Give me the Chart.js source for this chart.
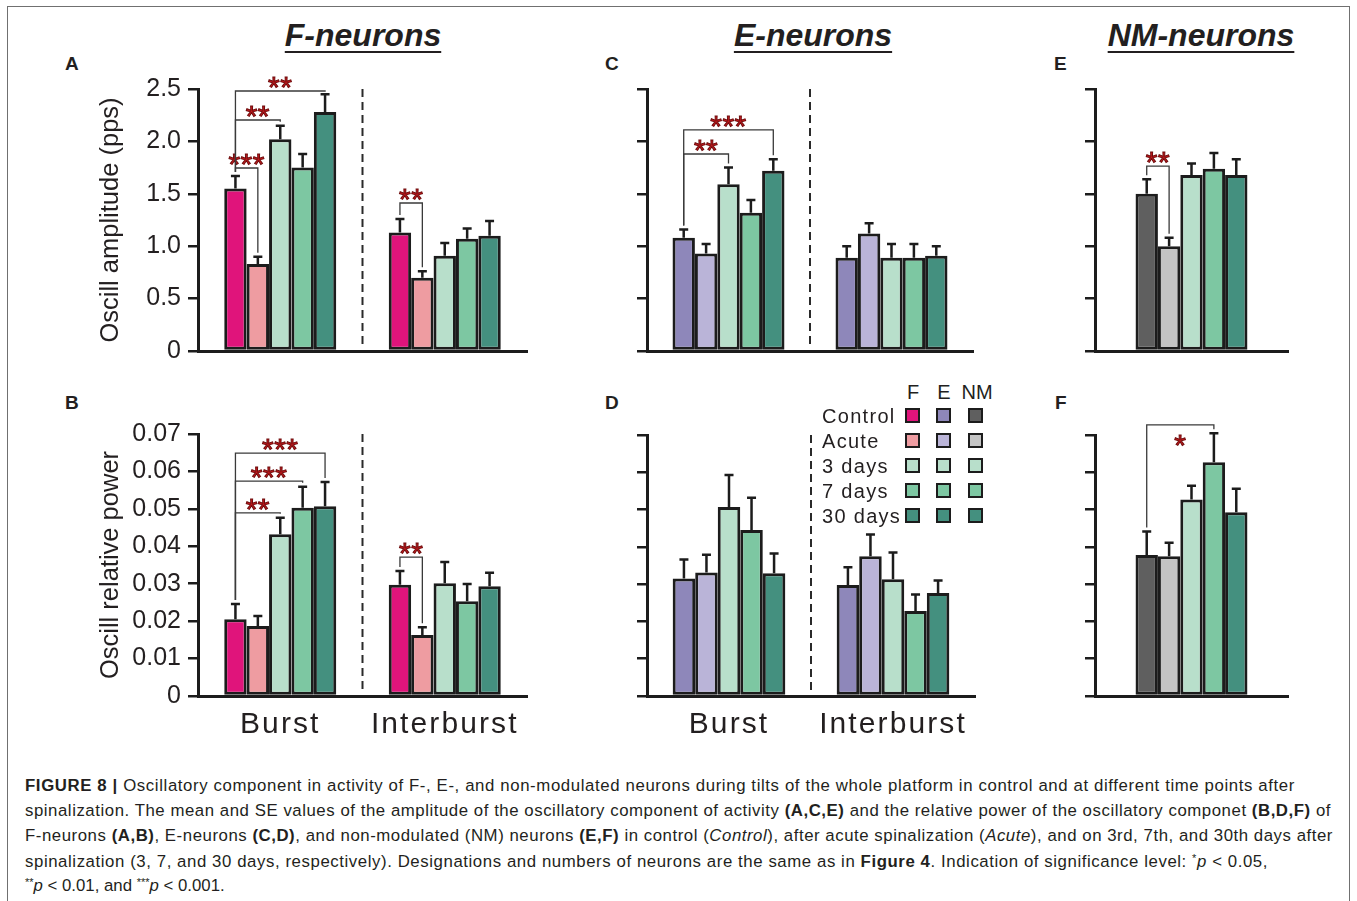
<!DOCTYPE html>
<html>
<head>
<meta charset="utf-8">
<script src="https://cdn.jsdelivr.net/npm/chart.js"></script>
<style>
body{margin:0;background:#fff;font-family:"Liberation Sans",Arial,sans-serif;color:#231f20;}
#page{position:relative;width:1357px;height:901px;overflow:hidden;background:#fff;}
#frame{position:absolute;left:7px;top:6px;width:1341px;height:900px;border:1.5px solid #707070;border-bottom:none;}
canvas{position:absolute;}
.t{position:absolute;line-height:1;white-space:nowrap;}
.title{font-size:32px;font-weight:bold;font-style:italic;text-decoration:underline;text-decoration-thickness:2px;text-underline-offset:5px;transform:translateX(-50%);top:19px;}
.letter{font-size:19px;font-weight:bold;}
.lg{font-size:20px;letter-spacing:1.3px;}
.sw{position:absolute;width:11px;height:11px;border:2.5px solid #1c1c1c;}
.cap{position:absolute;left:25px;font-size:16.8px;line-height:1;white-space:nowrap;}
.cap sup{font-size:11px;vertical-align:5px;}
</style>
</head>
<body>
<div id="page">
  <div id="frame"></div>

  <div class="t title" style="left:363px">F-neurons</div>
  <div class="t title" style="left:813px">E-neurons</div>
  <div class="t title" style="left:1201px">NM-neurons</div>

  <div class="t letter" style="left:65px;top:54px">A</div>
  <div class="t letter" style="left:65px;top:393px">B</div>
  <div class="t letter" style="left:605px;top:54px">C</div>
  <div class="t letter" style="left:605px;top:393px">D</div>
  <div class="t letter" style="left:1054px;top:54px">E</div>
  <div class="t letter" style="left:1055px;top:393px">F</div>

  <canvas id="chartA"></canvas>
  <canvas id="chartB"></canvas>
  <canvas id="chartC"></canvas>
  <canvas id="chartD"></canvas>
  <canvas id="chartE"></canvas>
  <canvas id="chartF"></canvas>

  <div id="legend"></div>

  <div class="cap" data-w="1270" style="top:778px"><b>FIGURE 8 |</b> Oscillatory component in activity of F-, E-, and non-modulated neurons during tilts of the whole platform in control and at different time points after</div>
  <div class="cap" data-w="1306" style="top:803px">spinalization. The mean and SE values of the amplitude of the oscillatory component of activity <b>(A,C,E)</b> and the relative power of the oscillatory componet <b>(B,D,F)</b> of</div>
  <div class="cap" data-w="1308" style="top:828px">F-neurons <b>(A,B)</b>, E-neurons <b>(C,D)</b>, and non-modulated (NM) neurons <b>(E,F)</b> in control (<i>Control</i>), after acute spinalization (<i>Acute</i>), and on 3rd, 7th, and 30th days after</div>
  <div class="cap" data-w="1243" style="top:853px">spinalization (3, 7, and 30 days, respectively). Designations and numbers of neurons are the same as in <b>Figure 4</b>. Indication of significance level: <sup>*</sup><i>p</i> &lt; 0.05,</div>
  <div class="cap" style="top:877px"><sup>**</sup><i>p</i> &lt; 0.01, and <sup>***</sup><i>p</i> &lt; 0.001.</div>
</div>

<script>
// categories
var groups = ['Burst', 'Interburst'];
var conditions = ['Control', 'Acute', '3 days', '7 days', '30 days'];
var neuronTypes = ['F', 'E', 'NM'];

// tick labels
var ampTickLabels = ['0', '0.5', '1.0', '1.5', '2.0', '2.5'];
var powTickLabels = ['0', '0.01', '0.02', '0.03', '0.04', '0.05', '0.06', '0.07'];

// colours per condition
var fColors  = ['#e0147b', '#ee9ca1', '#b8dfcb', '#7dc7a2', '#44907f'];
var eColors  = ['#8e87ba', '#bab4d8', '#b8dfcb', '#7dc7a2', '#44907f'];
var nmColors = ['#5f5f5f', '#c4c4c4', '#b8dfcb', '#7dc7a2', '#44907f'];

// A: F-neurons, oscill amplitude (pps), mean and SE
var fAmpBurst   = [1.55, 0.83, 2.02, 1.75, 2.28];
var fAmpBurstSE = [0.12, 0.07, 0.13, 0.13, 0.17];
var fAmpInter   = [1.13, 0.70, 0.91, 1.07, 1.10];
var fAmpInterSE = [0.13, 0.06, 0.12, 0.10, 0.14];

// B: F-neurons, oscill relative power
var fPowBurst   = [0.0205, 0.0187, 0.0432, 0.0503, 0.0507];
var fPowBurstSE = [0.0041, 0.0027, 0.0044, 0.0056, 0.0065];
var fPowInter   = [0.0297, 0.0163, 0.0301, 0.0253, 0.0293];
var fPowInterSE = [0.0037, 0.0021, 0.0057, 0.0046, 0.0036];

// C: E-neurons, amplitude
var eAmpBurst   = [1.08, 0.93, 1.59, 1.32, 1.72];
var eAmpBurstSE = [0.08, 0.09, 0.16, 0.12, 0.11];
var eAmpInter   = [0.89, 1.12, 0.89, 0.89, 0.91];
var eAmpInterSE = [0.11, 0.10, 0.13, 0.13, 0.09];

// D: E-neurons, relative power
var ePowBurst   = [0.0315, 0.0331, 0.0507, 0.0445, 0.0329];
var ePowBurstSE = [0.0051, 0.0048, 0.0086, 0.0087, 0.0053];
var ePowInter   = [0.0298, 0.0375, 0.0313, 0.0228, 0.0276];
var ePowInterSE = [0.0047, 0.0058, 0.0072, 0.0044, 0.0034];

// E, F: NM-neurons (one group)
var nmAmp   = [1.50, 1.00, 1.68, 1.74, 1.68];
var nmAmpSE = [0.14, 0.08, 0.11, 0.15, 0.15];
var nmPow   = [0.0378, 0.0375, 0.0527, 0.0627, 0.0493];
var nmPowSE = [0.0063, 0.0036, 0.0037, 0.0078, 0.0063];

// significance brackets: group, from/to condition index, bracket level (data units), stars
var bracketsA = [
  {group: 0, from: 0, to: 1, level: 1.746, stars: '***'},
  {group: 0, from: 0, to: 2, level: 2.204, stars: '**'},
  {group: 0, from: 0, to: 4, level: 2.481, stars: '**'},
  {group: 1, from: 0, to: 1, level: 1.412, stars: '**'}
];
var bracketsB = [
  {group: 0, from: 0, to: 2, level: 0.0489, stars: '**'},
  {group: 0, from: 0, to: 3, level: 0.0574, stars: '***'},
  {group: 0, from: 0, to: 4, level: 0.0649, stars: '***'},
  {group: 1, from: 0, to: 1, level: 0.0371, stars: '**'}
];
var bracketsC = [
  {group: 0, from: 0, to: 2, level: 1.88, stars: '**'},
  {group: 0, from: 0, to: 4, level: 2.11, stars: '***'}
];
var bracketsE = [{group: 0, from: 0, to: 1, level: 1.765, stars: '**'}];
var bracketsF = [{group: 0, from: 0, to: 3, level: 0.0727, stars: '*', below: true}];

Chart.defaults.font.family = '"Liberation Sans", Arial, sans-serif';
Chart.defaults.color = '#231f20';

// error bars, dashed divider, significance brackets
var marksPlugin = {
  id: 'marks',
  afterDatasetsDraw: function(chart, args, opts){
    var ctx = chart.ctx, ys = chart.scales.y, xs = chart.scales.x, ca = chart.chartArea;
    ctx.save();
    if (opts.divider) {
      var xm = (xs.getPixelForValue(0) + xs.getPixelForValue(1)) / 2;
      ctx.setLineDash([8, 5]);
      ctx.lineWidth = 2;
      ctx.strokeStyle = '#2a2a2a';
      ctx.beginPath(); ctx.moveTo(xm, ca.top); ctx.lineTo(xm, ca.bottom - 6); ctx.stroke();
      ctx.setLineDash([]);
    }
    ctx.lineWidth = 2.5;
    ctx.strokeStyle = '#1c1c1c';
    chart.data.datasets.forEach(function(ds, i){
      chart.getDatasetMeta(i).data.forEach(function(bar, j){
        var top = ys.getPixelForValue(ds.data[j] + ds.errors[j]);
        ctx.beginPath();
        ctx.moveTo(bar.x, bar.y); ctx.lineTo(bar.x, top);
        ctx.moveTo(bar.x - 4.5, top); ctx.lineTo(bar.x + 4.5, top);
        ctx.stroke();
      });
    });
    (opts.brackets || []).forEach(function(b){
      var tip = function(k){
        var ds = chart.data.datasets[k];
        return ys.getPixelForValue(ds.data[b.group] + ds.errors[b.group]) - 4;
      };
      var x1 = chart.getDatasetMeta(b.from).data[b.group].x;
      var x2 = chart.getDatasetMeta(b.to).data[b.group].x;
      var y = ys.getPixelForValue(b.level);
      ctx.lineWidth = 1.3;
      ctx.strokeStyle = '#3a3a3a';
      ctx.beginPath();
      ctx.moveTo(x1, tip(b.from)); ctx.lineTo(x1, y); ctx.lineTo(x2, y); ctx.lineTo(x2, tip(b.to));
      ctx.stroke();
      ctx.font = '30px "Liberation Sans", Arial, sans-serif';
      ctx.textAlign = 'center';
      ctx.textBaseline = 'alphabetic';
      ctx.letterSpacing = '0.5px';
      var sy = b.below ? y + 13 + 17 : y - 11 + 17;
      ctx.fillStyle = '#cc1a1f';
      ctx.strokeStyle = '#6b0a0a';
      ctx.lineWidth = 1;
      ctx.fillText(b.stars, (x1 + x2) / 2, sy);
      ctx.strokeText(b.stars, (x1 + x2) / 2, sy);
      ctx.letterSpacing = '0px';
    });
    ctx.restore();
    if (opts.spacing) ctx.letterSpacing = opts.spacing;   // for x labels drawn after datasets
  },
  afterDraw: function(chart){
    chart.ctx.letterSpacing = '0px';
  }
};

function buildSets(colors, series, errs){
  return conditions.map(function(c, i){
    return {
      label: c,
      data: series.map(function(s){ return s[i]; }),
      errors: errs.map(function(s){ return s[i]; }),
      backgroundColor: colors[i]
    };
  });
}

function panel(id, box, area, sets, o){
  var cv = document.getElementById(id);
  cv.width = box.w; cv.height = box.h;
  cv.style.left = box.x + 'px'; cv.style.top = box.y + 'px';
  new Chart(cv, {
    type: 'bar',
    data: {labels: o.labels, datasets: sets},
    options: {
      responsive: false,
      animation: false,
      events: [],
      layout: {padding: {left: 0, bottom: 0, top: area.top - box.y, right: box.x + box.w - area.right}},
      datasets: {bar: {categoryPercentage: o.catPct, barPercentage: 1, borderWidth: 3, borderColor: '#1c1c1c', borderSkipped: false}},
      plugins: {
        legend: {display: false},
        tooltip: {enabled: false},
        marks: {brackets: o.brackets, divider: o.labels.length > 1, spacing: o.xLabels ? '2.1px' : null}
      },
      scales: {
        x: {
          grid: {display: false, drawTicks: false},
          border: {width: 3, color: '#1c1c1c'},
          ticks: {display: !!o.xLabels, font: {size: 30}, color: '#231f20', padding: 11, maxRotation: 0, z: 1},
          afterFit: function(s){
            s.height = box.y + box.h - area.bottom;
            s.paddingLeft = 0; s.paddingRight = 0;
          }
        },
        y: {
          min: 0, max: o.max,
          ticks: {
            stepSize: o.step,
            display: !!o.tickLabels,
            font: {size: 25},
            color: '#231f20',
            padding: 7,
            callback: function(v){ return o.tickLabels ? o.tickLabels[Math.round(v / o.step)] : ''; }
          },
          grid: {drawOnChartArea: false, tickLength: 10, lineWidth: 2.5, color: '#1c1c1c'},
          border: {width: 3, color: '#1c1c1c'},
          title: {display: !!o.yTitle, text: o.yTitle, font: {size: 25.5}, color: '#231f20', padding: {top: 6, bottom: 0}},
          afterFit: function(s){
            s.width = area.left - box.x;
            s.paddingTop = 0; s.paddingBottom = 0;
          }
        }
      }
    },
    plugins: [marksPlugin]
  });
}

panel('chartA', {x: 90, y: 60, w: 445, h: 312}, {left: 198, top: 89, right: 527, bottom: 351},
  buildSets(fColors, [fAmpBurst, fAmpInter], [fAmpBurstSE, fAmpInterSE]),
  {labels: groups, catPct: 0.681, max: 2.5, step: 0.5, tickLabels: ampTickLabels, yTitle: 'Oscill amplitude (pps)', brackets: bracketsA});

panel('chartB', {x: 90, y: 410, w: 445, h: 340}, {left: 198, top: 434, right: 527, bottom: 696},
  buildSets(fColors, [fPowBurst, fPowInter], [fPowBurstSE, fPowInterSE]),
  {labels: groups, catPct: 0.681, max: 0.07, step: 0.01, tickLabels: powTickLabels, yTitle: 'Oscill relative power', brackets: bracketsB, xLabels: true});

panel('chartC', {x: 600, y: 60, w: 385, h: 300}, {left: 647, top: 89, right: 973, bottom: 351},
  buildSets(eColors, [eAmpBurst, eAmpInter], [eAmpBurstSE, eAmpInterSE]),
  {labels: groups, catPct: 0.687, max: 2.5, step: 0.5, brackets: bracketsC});

panel('chartD', {x: 600, y: 410, w: 385, h: 340}, {left: 647, top: 435, right: 975, bottom: 696},
  buildSets(eColors, [ePowBurst, ePowInter], [ePowBurstSE, ePowInterSE]),
  {labels: groups, catPct: 0.687, max: 0.07, step: 0.01, brackets: [], xLabels: true});

panel('chartE', {x: 1060, y: 60, w: 240, h: 300}, {left: 1095, top: 89, right: 1288, bottom: 351},
  buildSets(nmColors, [nmAmp], [nmAmpSE]),
  {labels: [''], catPct: 0.58, max: 2.5, step: 0.5, brackets: bracketsE});

panel('chartF', {x: 1060, y: 410, w: 240, h: 300}, {left: 1095, top: 435, right: 1288, bottom: 696},
  buildSets(nmColors, [nmPow], [nmPowSE]),
  {labels: [''], catPct: 0.58, max: 0.07, step: 0.01, brackets: bracketsF});

// legend in panel D: condition rows x neuron-type columns
(function(){
  var lg = document.getElementById('legend');
  var colX = [905, 936, 968];
  var headX = [913, 944, 977];
  var cols = [fColors, eColors, nmColors];
  var html = '';
  neuronTypes.forEach(function(n, k){
    html += '<div class="t lg" style="top:382px;left:' + headX[k] + 'px;transform:translateX(-50%);letter-spacing:0">' + n + '</div>';
  });
  conditions.forEach(function(c, i){
    var base = 423 + i * 25;
    html += '<div class="t lg" style="left:822px;top:' + (base - 17) + 'px">' + c + '</div>';
    cols.forEach(function(cc, k){
      html += '<div class="sw" style="left:' + colX[k] + 'px;top:' + (base - 15) + 'px;background:' + cc[i] + '"></div>';
    });
  });
  lg.innerHTML = html;
})();

// fit caption lines to the column width
document.querySelectorAll('.cap[data-w]').forEach(function(el){
  var target = +el.getAttribute('data-w');
  var w = el.getBoundingClientRect().width;
  var n = el.textContent.length;
  el.style.letterSpacing = ((target - w) / n) + 'px';
});
</script>
</body>
</html>
